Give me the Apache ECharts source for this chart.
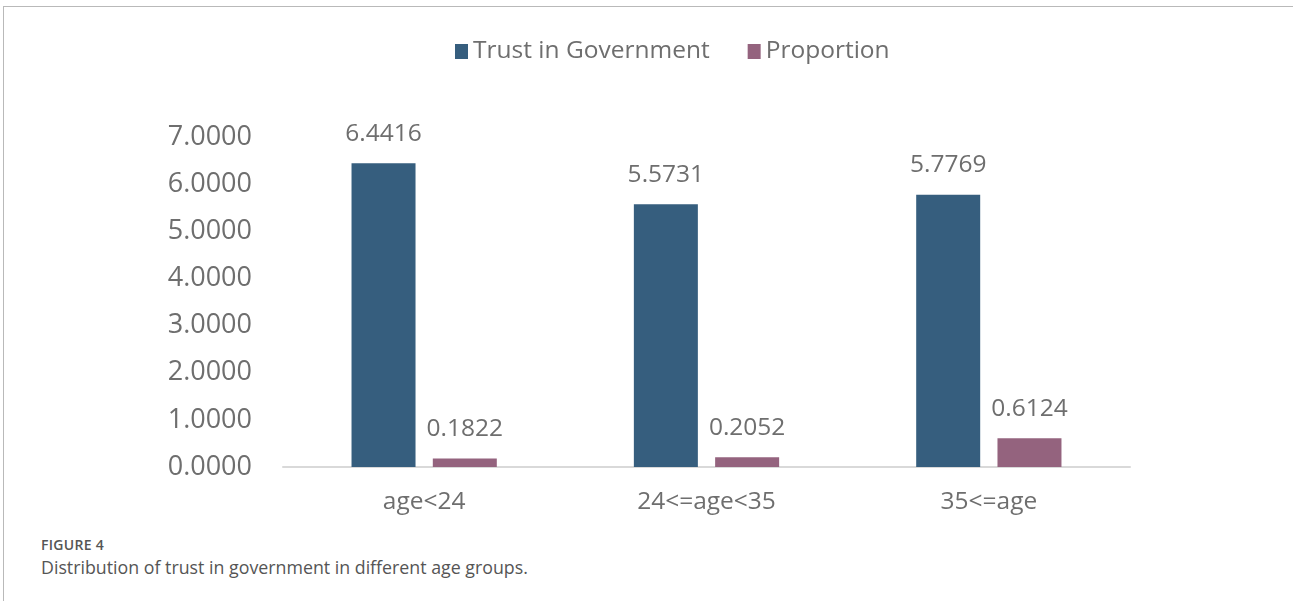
<!DOCTYPE html>
<html>
<head>
<meta charset="utf-8">
<script src="https://cdn.jsdelivr.net/npm/echarts@6/dist/echarts.min.js"></script>
<style>
  html, body { margin: 0; padding: 0; background: #fff; }
  #frame { position: absolute; left: 3px; top: 6px; width: 1290px; height: 595px;
           border-top: 1px solid #b9b9b9; border-left: 1px solid #b9b9b9; }
  #chart { position: absolute; left: 0; top: 0; width: 1293px; height: 530px; }
  #fig { position: absolute; left: 41px; top: 535px; font-family: "Open Sans", sans-serif;
         font-size: 14px; font-weight: 600; color: #555; letter-spacing: 0.3px; }
  #cap { position: absolute; left: 41px; top: 555px; font-family: "Open Sans", sans-serif;
         font-size: 17.8px; color: #555; }
</style>
</head>
<body>
<div id="frame"></div>
<div id="chart"></div>
<div id="fig">FIGURE 4</div>
<div id="cap">Distribution of trust in government in different age groups.</div>
<script>
const categories = ['age<24', '24<=age<35', '35<=age'];
const trustValues = [6.4416, 5.5731, 5.7769];
const proportionValues = [0.1822, 0.2052, 0.6124];
const seriesNames = ['Trust in Government', 'Proportion'];

const chart = echarts.init(document.getElementById('chart'));
const txt = '#6e6e6e';
const font = '"Open Sans", sans-serif';
chart.setOption({
  animation: false,
  legend: {
    top: 39, left: 455, itemWidth: 13, itemHeight: 15, itemGap: 38,
    icon: 'rect', padding: 0,
    textStyle: { fontSize: 24.5, color: txt, fontFamily: font },
    data: seriesNames
  },
  grid: { left: 283, right: 163, top: 137, bottom: 63, containLabel: false },
  xAxis: {
    type: 'category', data: categories,
    axisLine: { lineStyle: { color: '#d9d9d9', width: 2 } },
    axisTick: { show: false },
    axisLabel: { fontSize: 24.5, color: txt, fontFamily: font, margin: 23 }
  },
  yAxis: {
    type: 'value', min: 0, max: 7, interval: 1,
    axisLine: { show: false }, axisTick: { show: false },
    splitLine: { show: false },
    axisLabel: { fontSize: 27, color: txt, fontFamily: font, margin: 31,
                 formatter: v => v.toFixed(4) }
  },
  series: [
    { name: seriesNames[0], type: 'bar', data: trustValues, barWidth: 64, barGap: '27%',
      itemStyle: { color: '#365e7e' },
      label: { show: true, position: 'top', distance: 17, fontSize: 24.5, color: txt, fontFamily: font,
               formatter: p => p.value.toFixed(4) } },
    { name: seriesNames[1], type: 'bar', data: proportionValues, barWidth: 64,
      itemStyle: { color: '#94637e' },
      label: { show: true, position: 'top', distance: 17, fontSize: 24.5, color: txt, fontFamily: font,
               formatter: p => p.value.toFixed(4) } }
  ]
});
</script>
</body>
</html>
